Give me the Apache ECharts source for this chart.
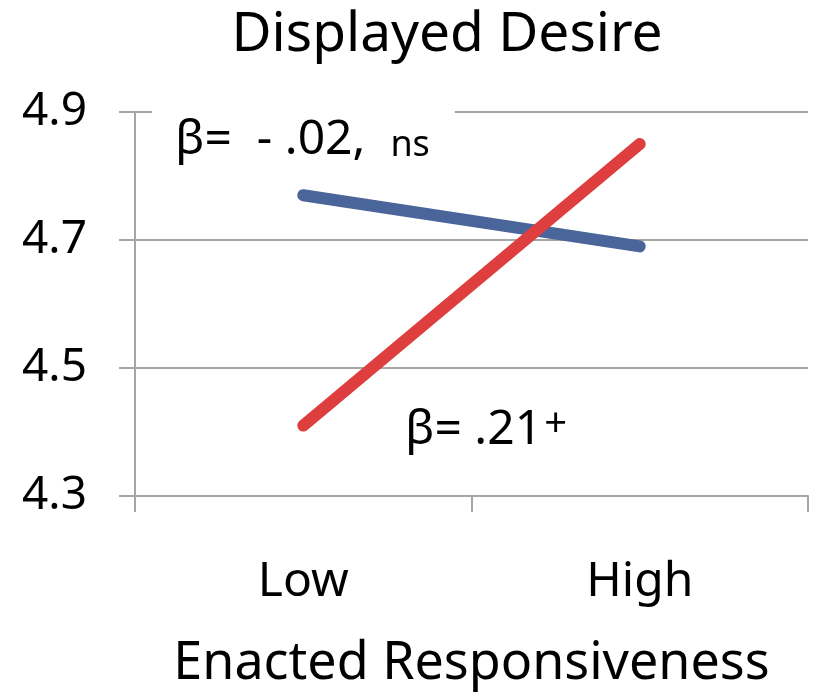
<!DOCTYPE html>
<html>
<head>
<meta charset="utf-8">
<script src="https://cdn.jsdelivr.net/npm/echarts@6/dist/echarts.min.js"></script>
<style>
  html, body { margin: 0; padding: 0; background: #fff; }
  #chart { width: 813px; height: 692px; }
</style>
</head>
<body>
<div id="chart"></div>
<script>
// Simple-slope data: displayed desire at low / high enacted responsiveness
const categories = ['Low', 'High'];
const blueSeries = [4.77, 4.69];
const redSeries = [4.41, 4.85];
const yTicks = [4.3, 4.5, 4.7, 4.9];

const FONT = 'Noto Sans';
const GRID_COLOR = '#A6A6A6';

const chart = echarts.init(document.getElementById('chart'));

chart.setOption({
  animation: false,
  backgroundColor: '#ffffff',
  title: {
    text: 'Displayed Desire',
    left: 442,
    top: 3,
    textAlign: 'center',
    textStyle: { fontFamily: FONT, fontSize: 55, fontWeight: 'normal', color: '#000' }
  },
  grid: { left: 135, right: 5, top: 112, bottom: 196, outerBoundsMode: 'none', containLabel: false },
  xAxis: {
    type: 'category',
    data: categories,
    boundaryGap: true,
    name: 'Enacted Responsiveness',
    nameLocation: 'middle',
    nameGap: 142,
    nameTextStyle: { fontFamily: FONT, fontSize: 52, color: '#000' },
    axisLine: { show: true, lineStyle: { color: GRID_COLOR, width: 2 } },
    axisTick: { show: true, length: 16, lineStyle: { color: GRID_COLOR, width: 2 } },
    axisLabel: { fontFamily: FONT, fontSize: 48, color: '#000', margin: 62 },
    splitLine: { show: false }
  },
  yAxis: {
    type: 'value',
    min: yTicks[0],
    max: yTicks[yTicks.length - 1],
    interval: 0.2,
    axisLine: { show: true, lineStyle: { color: GRID_COLOR, width: 2 } },
    axisTick: { show: true, length: 16, lineStyle: { color: GRID_COLOR, width: 2 } },
    axisLabel: {
      fontFamily: FONT, fontSize: 46, color: '#000', margin: 48,
      formatter: v => v.toFixed(1)
    },
    splitLine: { show: true, lineStyle: { color: GRID_COLOR, width: 2 } }
  },
  series: [
    {
      type: 'line',
      data: blueSeries,
      symbol: 'none',
      lineStyle: { color: '#4A6599', width: 12, cap: 'round' },
      z: 3
    },
    {
      type: 'line',
      data: redSeries,
      symbol: 'none',
      lineStyle: { color: '#DE3E3E', width: 12, cap: 'round' },
      z: 4
    }
  ],
  graphic: [
    {
      type: 'text',
      left: 152,
      top: 102,
      z: 10,
      style: {
        text: '{a|β=  - .02,  }{b|ns}',
        backgroundColor: '#ffffff',
        padding: [0, 25, 0, 23],
        rich: {
          a: { fontFamily: FONT, fontSize: 48, color: '#000', lineHeight: 62, verticalAlign: 'bottom' },
          b: { fontFamily: FONT, fontSize: 36, color: '#000', lineHeight: 62, verticalAlign: 'bottom' }
        }
      }
    },
    {
      type: 'text',
      left: 405,
      top: 405,
      z: 10,
      style: {
        text: '{a|β= .21}{p|+}',
        rich: {
          a: { fontFamily: FONT, fontSize: 48, color: '#000', lineHeight: 62, verticalAlign: 'bottom' },
          p: { fontFamily: FONT, fontSize: 40, color: '#000', lineHeight: 62, verticalAlign: 'bottom', padding: [0, 0, 9, 2] }
        }
      }
    }
  ]
});
</script>
</body>
</html>
